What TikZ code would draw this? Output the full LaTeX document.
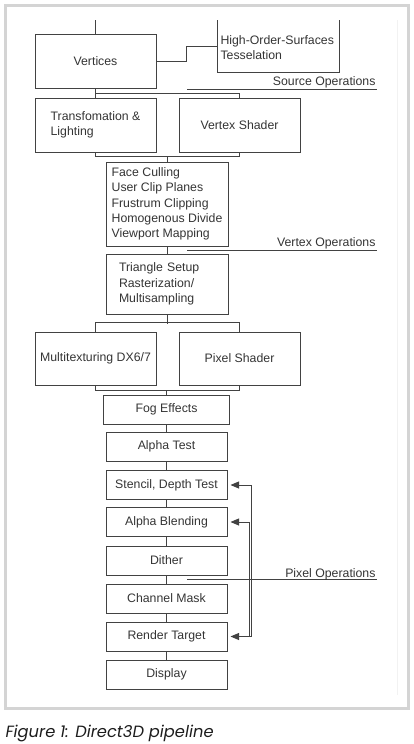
\documentclass[tikz,border=0pt]{standalone}
\usepackage{fontspec}
\setmainfont{Liberation Sans}
\newfontfamily\capfont{Poppins}
\usetikzlibrary{arrows}
\definecolor{linegray}{RGB}{66,66,66}
\definecolor{textgray}{RGB}{52,52,52}
\definecolor{framegray}{RGB}{212,212,212}
\definecolor{capgray}{RGB}{28,28,28}
\tikzset{
  box/.style={draw=linegray,line width=1pt,inner sep=0pt,text=textgray,minimum width=121pt,font=\fontsize{12.3}{15.2}\selectfont},
  bigbox/.style={box,minimum height=54pt},
  smallbox/.style={box,minimum height=29pt},
  oplabel/.style={anchor=base east,inner sep=0pt,text=textgray,font=\fontsize{12.3}{15}\selectfont},
}

\begin{document}
\begin{tikzpicture}[line join=miter,>=triangle 45,x=1pt,y=-1pt,color=linegray,line width=1pt]
\useasboundingbox (0,0) rectangle (414,744);
%\draw[help lines,xstep=10pt,ystep=10pt] (0,0) grid (414,744);
\draw[framegray,line width=3pt] (5,5.5) rectangle (408.5,708);
\draw[framegray!30,line width=1pt] (397,20) -- (397,695);
% source operations
\node[bigbox] (vert) at (95.5,61) {Vertices};
\node[anchor=west,inner sep=0pt,align=left,text=textgray,font=\fontsize{12.3}{15.2}\selectfont] (hos) at (220,48) {High-Order-Surfaces\\Tesselation};
\draw (217,20) -- (217,72) -- (339,72) -- (339,20);
\coordinate (top) at (95.5,20);
\coordinate (hosin) at (217,46);
\draw (top) -- (vert.north);
\draw (vert.east) -- ++(30,0) |- (hosin);
\draw (187,89) -- (377,89);
\node[oplabel] (srcop) at (376,85.5) {Source Operations};
% vertex operations
\node[bigbox,align=left] (tl) at (95.5,125) {Transfomation \&\\Lighting};
\node[bigbox] (vs) at (239.5,125) {Vertex Shader};
\draw (vert.south) -- (tl.north);
\draw (vert.south) -- ++(0,5) -| (vs.north);
\draw (tl.south) -- ++(0,4) -| (vs.south);
\node[box,minimum width=122pt,minimum height=84pt,align=left] (vo) at (167,204) {Face Culling\\User Clip Planes\\Frustrum Clipping\\Homogenous Divide\\Viewport Mapping};
\draw (vo.north) -- ++(0,-6);
\draw (187,250) -- (377,250);
\node[oplabel] (vtxop) at (376,246.5) {Vertex Operations};
% pixel operations
\node[box,minimum height=60pt,align=left,text width=96pt,inner xsep=13pt] (tri) at (167,284) {Triangle Setup\\Rasterization/\\Multisampling};
\draw (vo.south) -- (tri.north);
\node[bigbox,minimum height=53pt] (mt) at (95.5,358.5) {Multitexturing DX6/7};
\node[bigbox,minimum height=53pt] (ps) at (239.5,358.5) {Pixel Shader};
\draw (tri.south) -- ++(0,9);
\draw (mt.north) -- ++(0,-9) -| (ps.north);
\draw (mt.south) -- ++(0,5) -| (ps.south);
\node[smallbox,minimum width=126pt] (fog) at (166.5,409.5) {Fog Effects};
\draw (fog.north) -- ++(0,-5);
\node[smallbox] (at) at (166.5,446.5) {Alpha Test};
\node[smallbox] (sd) at (166.5,485) {Stencil, Depth Test};
\node[smallbox] (ab) at (166.5,522) {Alpha Blending};
\node[smallbox] (di) at (166.5,560.5) {Dither};
\node[smallbox] (cm) at (166.5,598.5) {Channel Mask};
\node[smallbox] (rt) at (166.5,636.5) {Render Target};
\node[smallbox] (dp) at (166.5,674.5) {Display};
\draw (fog.south) -- (at.north);
\draw (at.south) -- (sd.north);
\draw (sd.south) -- (ab.north);
\draw (ab.south) -- (di.north);
\draw (di.south) -- (cm.north);
\draw (cm.south) -- (rt.north);
\draw (rt.south) -- (dp.north);
\coordinate (fbrt) at (251.5,636.5);
\coordinate (fbab) at (249,636.5);
\draw[->,shorten >=3pt] (fbrt) |- (sd.east);
\draw[->,shorten >=3pt] (fbab) |- (ab.east);
\draw[->,shorten >=3pt] (fbrt) -- (rt.east);
\draw (187,579.5) -- (377,579.5);
\node[oplabel] (pixop) at (376,577) {Pixel Operations};
\node[anchor=base west,inner sep=0pt,text=capgray,font=\capfont\itshape\fontsize{16.3}{18}\selectfont] (cap) at (5,737.7) {Figure 1: Direct3D pipeline};
\end{tikzpicture}
\end{document}
